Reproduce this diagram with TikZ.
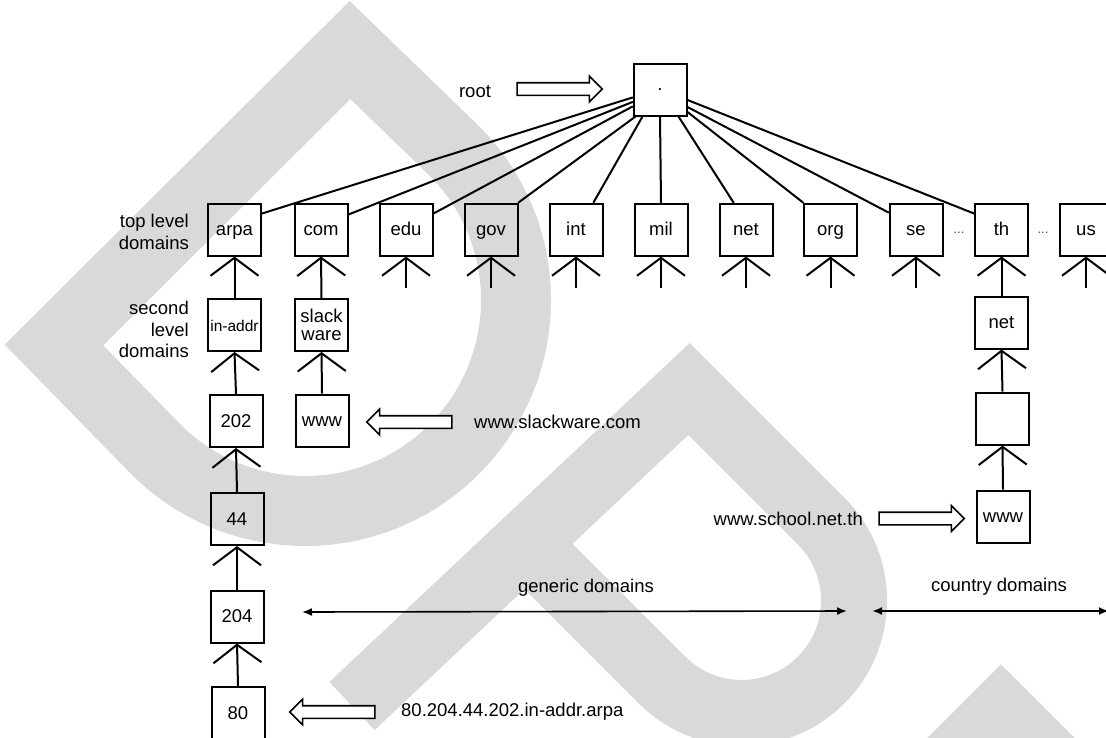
\documentclass[tikz,border=0pt]{standalone}
\usepackage{fontspec}
\setmainfont{Liberation Sans}
\usetikzlibrary{arrows.meta,shapes.arrows,calc}

\begin{document}
\begin{tikzpicture}[x=1pt,y=-1pt,
  logoband/.style={draw=black!15,line width=66pt,line join=miter,line cap=butt},
  boxbase/.style={draw,line width=2pt,minimum width=53pt,minimum height=52pt,inner sep=0pt,font=\fontsize{18.5}{18.5}\selectfont},
  dbox/.style={boxbase,text height=12pt,text depth=0pt},
  lbl/.style={inner sep=0pt,font=\fontsize{18.5}{22}\selectfont},
  rootline/.style={line width=2pt,line cap=round},
  conn/.style={line width=2pt,-{Straight Barb[length=18pt,width=48pt]}},
  fatarrow/.style={single arrow,draw,line width=1.6pt,fill=white,minimum height=85pt,inner sep=0pt,inner ysep=5.5pt,single arrow head extend=6.5pt},
  rangearrow/.style={line width=1.6pt,{Latex[length=10pt,width=8pt]}-{Latex[length=10pt,width=8pt]}},
  ellip/.style={inner sep=0pt,font=\fontsize{13}{13}\selectfont,text=black!70}
]
\useasboundingbox (0,0) rectangle (1106,737);
\clip (0,0) rectangle (1106,737);

% light grey logo strokes in the background
\draw[logoband,line width=70pt] (54,345) -- (350,50) -- (454.2,150.8) arc[start angle=-45,end angle=135,radius=211] -- cycle;
\draw[logoband] (352,706) -- (689,389) -- (821.1,521.1) arc[start angle=-45,end angle=135,radius=112.4] -- (525,543);
\draw[logoband] (921,791) -- (1001,711) -- (1081,791);

% root of the name space
\node[boxbase] (root) at (660,89.5) {.};
\node[lbl] (rootlbl) at (475,91.5) {root};
\node[fatarrow] (rootarrow) at (556.5,89) {};

% top level domains
\node[dbox] (arpa) at (234.5,229.5) {arpa};
\node[dbox] (com)  at (321,229.5) {com};
\node[dbox] (edu)  at (406,229.5) {edu};
\node[dbox] (gov)  at (491,229.5) {gov};
\node[dbox] (int)  at (576,229.5) {int};
\node[dbox] (mil)  at (661,229.5) {mil};
\node[dbox] (net)  at (746,229.5) {net};
\node[dbox] (org)  at (830.5,229.5) {org};
\node[dbox] (se)   at (916,229.5) {se};
\node[dbox] (th)   at (1001.5,229.5) {th};
\node[dbox] (us)   at (1086,229.5) {us};
\node[ellip] (dotsA) at (959,233) {...};
\node[ellip] (dotsB) at (1043,233) {...};

\node[lbl,anchor=east,align=right] (tldlbl) at (189,231.5) {top level\\domains};
\node[lbl,anchor=east,align=right,font=\fontsize{18.5}{21.5}\selectfont] (sldlbl) at (189,329.5) {second\\level\\domains};

% second level and below
\node[dbox,font=\fontsize{15.5}{15.5}\selectfont] (inaddr) at (234.5,325) {in-addr};
\node[boxbase,align=center,font=\fontsize{18.5}{18.5}\selectfont] (slack) at (321.5,325) {slack\\ware};
\node[dbox] (thnet) at (1001.5,322.5) {net};

\node[dbox] (n202) at (236,421) {202};
\node[dbox] (www1) at (322,420.5) {www};
\node[dbox] (blank) at (1002.5,418.5) {};

\node[dbox] (n44) at (237,519) {44};
\node[dbox] (www2) at (1003,516.5) {www};
\node[dbox] (n204) at (237,616.5) {204};
\node[dbox] (n80) at (238,713) {80};

% links from the root
\draw[rootline] ($(root.west)+(0,8)$) -- ($(arpa.north east)+(0,11)$);
\draw[rootline] ($(root.west)+(0,12.5)$) -- ($(com.north east)+(0,12)$);
\draw[rootline] ($(root.west)+(0,17)$) -- ($(edu.north east)+(0,11)$);
\draw[rootline] ($(root.south west)+(3,0)$) -- (gov.north east);
\draw[rootline] ($(root.south west)+(10,0)$) -- ($(int.north east)+(-10,0)$);
\draw[rootline] (root.south) -- (mil.north);
\draw[rootline] ($(root.south east)+(-9,0)$) -- ($(net.north west)+(15,0)$);
\draw[rootline] ($(root.east)+(0,22.5)$) -- (org.north west);
\draw[rootline] ($(root.east)+(0,17.5)$) -- ($(se.north west)+(0,10)$);
\draw[rootline] ($(root.east)+(0,10.5)$) -- ($(th.north west)+(0,11)$);

% child to parent links
\draw[conn] (inaddr.north) -- (arpa.south);
\draw[conn] (n202.north) -- (inaddr.south);
\draw[conn] (n44.north) -- (n202.south);
\draw[conn] (n204.north) -- (n44.south);
\draw[conn] (n80.north) -- (n204.south);
\draw[conn] (slack.north) -- (com.south);
\draw[conn] (www1.north) -- (slack.south);
\draw[conn] (thnet.north) -- (th.south);
\draw[conn] (blank.north) -- (thnet.south);
\draw[conn] (www2.north) -- (blank.south);
\foreach \n in {edu,gov,int,mil,net,org,se,us}{
  \coordinate (\n-stub) at ($(\n.south)+(0,31)$);
  \draw[conn] (\n-stub) -- (\n.south);
}

% example names
\node[fatarrow,shape border rotate=180] (slackarrow) at (412.5,422) {};
\node[lbl,anchor=west] (slackurl) at (474,422) {www.slackware.com};
\node[fatarrow] (schoolarrow) at (918.5,518.5) {};
\node[lbl,anchor=east] (schoolurl) at (863,519) {www.school.net.th};
\node[fatarrow,shape border rotate=180] (arpaarrow) at (335.5,712) {};
\node[lbl,anchor=west] (arpaurl) at (401,712) {80.204.44.202.in-addr.arpa};

% domain ranges
\node[lbl] (generic) at (586,588) {generic domains};
\node[lbl] (country) at (999,587) {country domains};
\coordinate (genL) at (302,612);
\coordinate (genR) at (847,611);
\coordinate (ctyL) at (872,611);
\coordinate (ctyR) at (1109,611);
\draw[rangearrow] (genL) -- (genR);
\draw[rangearrow,line width=2.2pt] (ctyL) -- (ctyR);
\end{tikzpicture}
\end{document}
